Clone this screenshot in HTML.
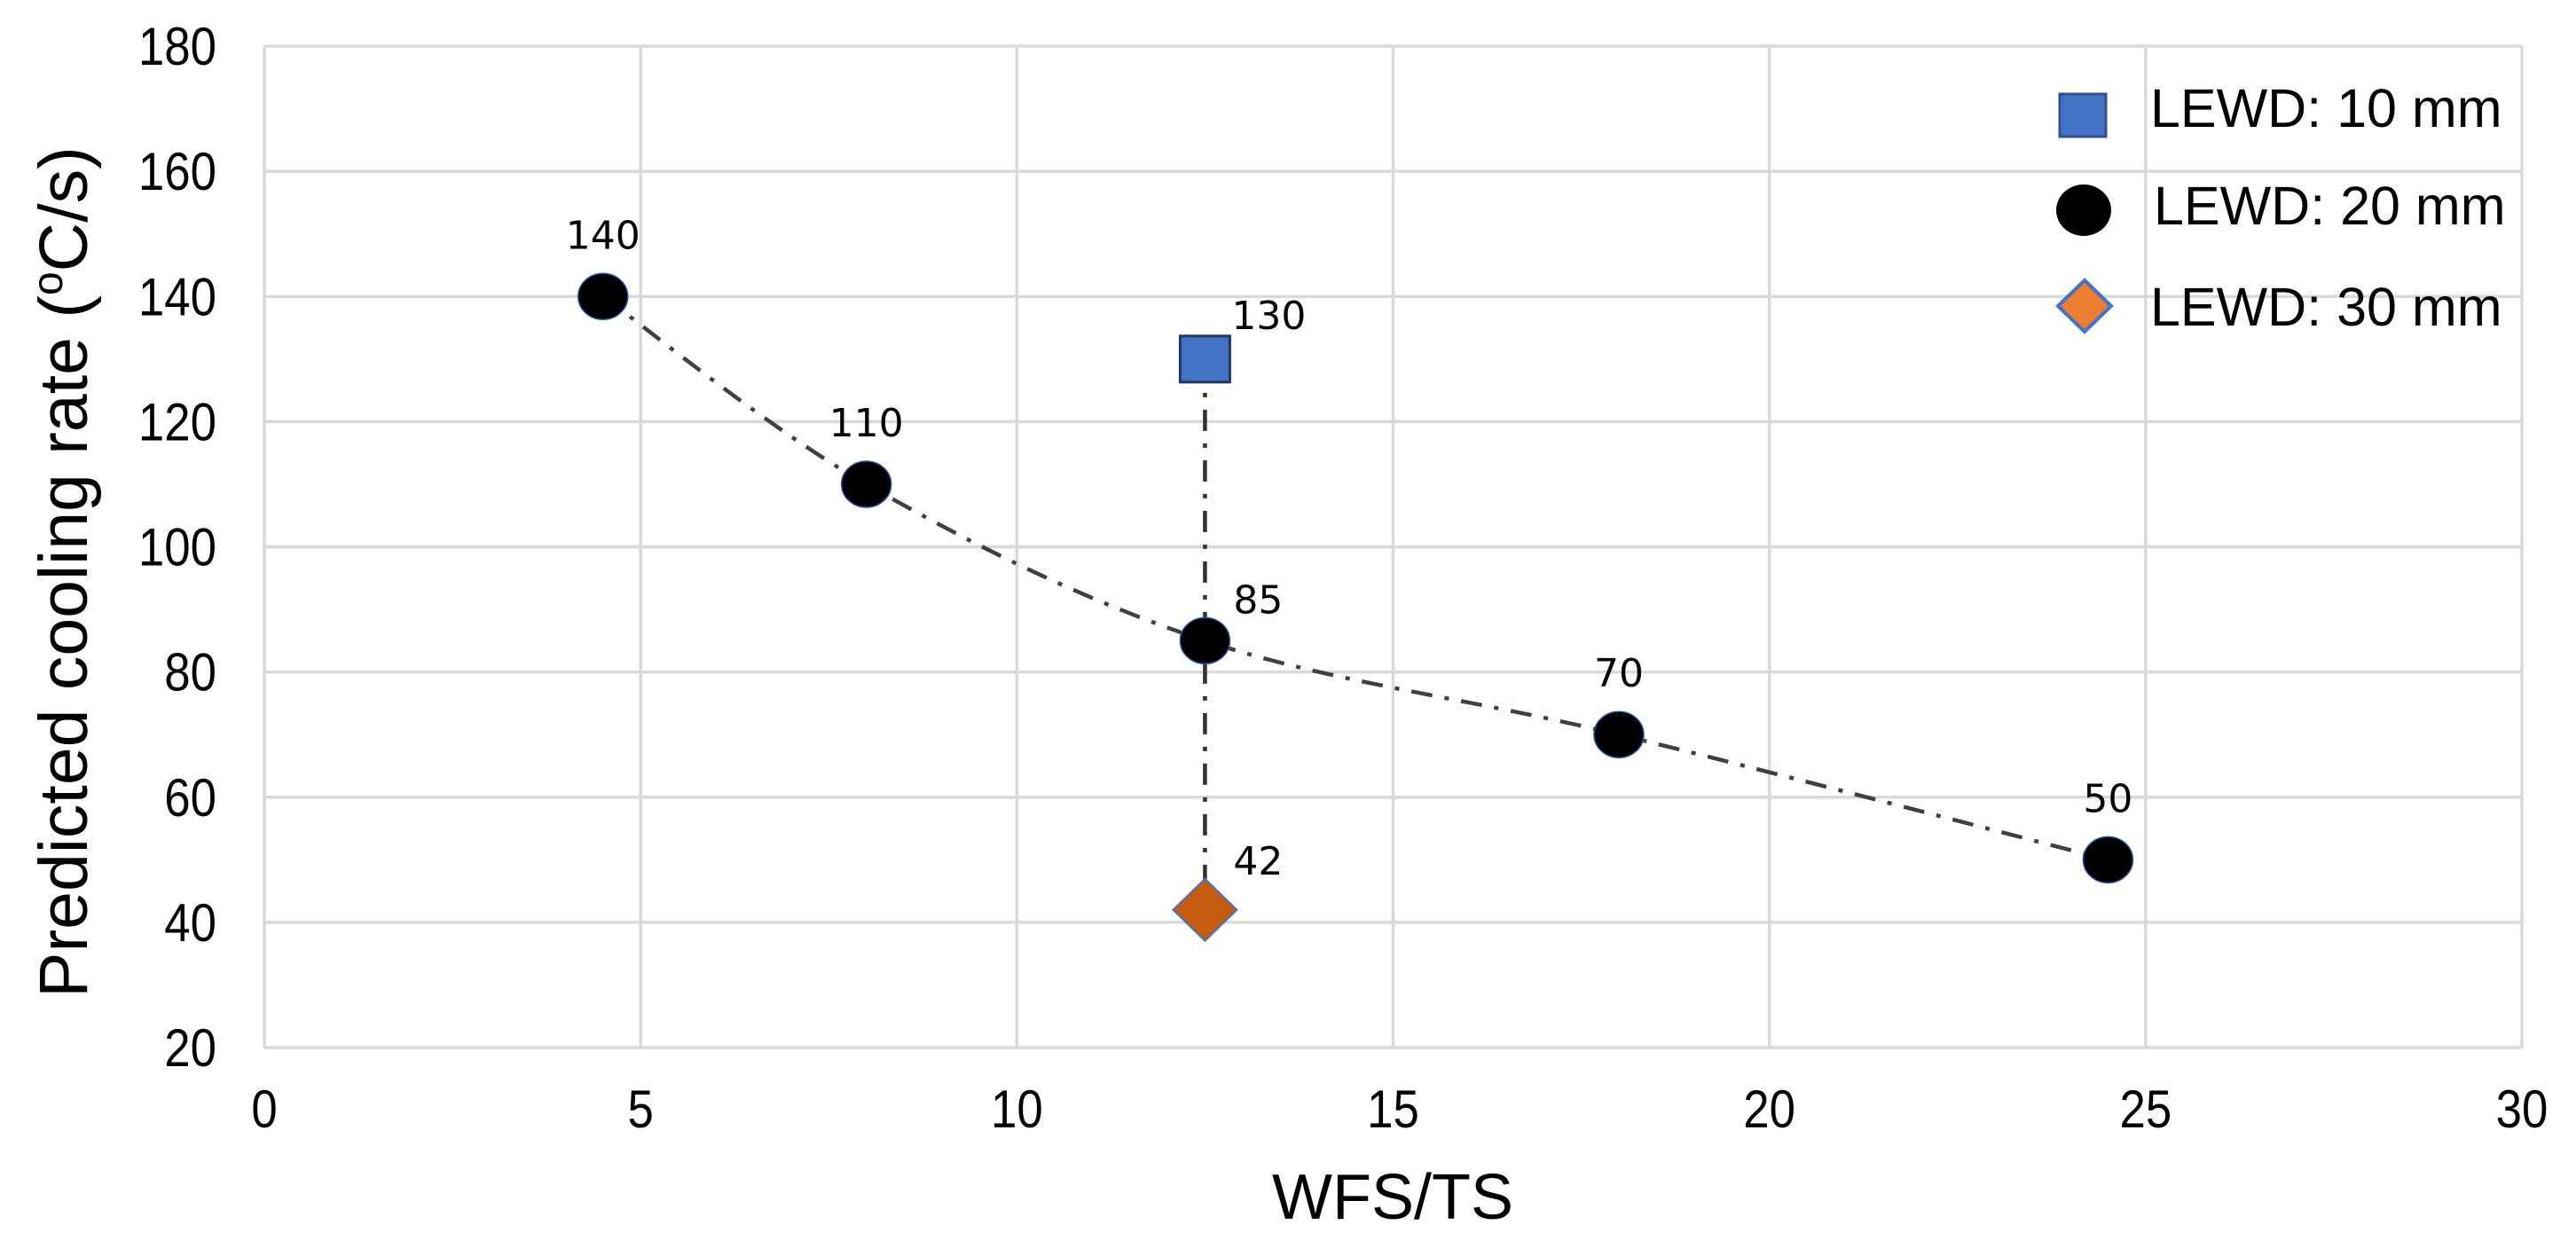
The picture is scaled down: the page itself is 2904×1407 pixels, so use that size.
<!DOCTYPE html>
<html><head><meta charset="utf-8">
<style>
html,body{margin:0;padding:0;background:#fff;}
svg{display:block;}
</style></head>
<body>
<svg id="chart" width="2904" height="1407" viewBox="0 0 2904 1407" xmlns="http://www.w3.org/2000/svg">
<rect width="2904" height="1407" fill="#fff"/>
<g id="grid"></g>
<g id="lines"></g>
<g id="marks"></g>
<g id="labels"></g>
<g id="ticks"></g>
<text transform="translate(98,645) rotate(-90)" text-anchor="middle" font-family="Liberation Sans, sans-serif" font-size="77" fill="#000">Predicted cooling rate (<tspan font-size="48" dy="-28">o</tspan><tspan dy="28">C/s)</tspan></text>
<text x="1570" y="1374" text-anchor="middle" font-family="Liberation Sans, sans-serif" font-size="72" fill="#000">WFS/TS</text>
<g id="legend">
  <g>
    <rect x="2322" y="106" width="52" height="48" fill="#4472c4" stroke="#2f528f" stroke-width="3"/>
    <text x="2424" y="143" font-family="Liberation Sans, sans-serif" font-size="61" fill="#000">LEWD: 10 mm</text>
  </g>
  <g>
    <ellipse cx="2349" cy="237" rx="31" ry="29" fill="#000"/>
    <text x="2428" y="253" font-family="Liberation Sans, sans-serif" font-size="61" fill="#000">LEWD: 20 mm</text>
  </g>
  <g>
    <polygon points="2350,316 2380,345 2350,374 2320,345" fill="#ed7d31" stroke="#4472c4" stroke-width="4"/>
    <text x="2424" y="367" font-family="Liberation Sans, sans-serif" font-size="61" fill="#000">LEWD: 30 mm</text>
  </g>
</g>
</svg>
<script>
// ---- data ----
const xTicks = [0, 5, 10, 15, 20, 25, 30];
const yTicks = [20, 40, 60, 80, 100, 120, 140, 160, 180];
const lewd20X = [4.5, 8, 12.5, 18, 24.5];
const lewd20Y = [140, 110, 85, 70, 50];
const lewd10X = [12.5];
const lewd10Y = [130];
const lewd30X = [12.5];
const lewd30Y = [42];

const NS = 'http://www.w3.org/2000/svg';
const L = 298, R = 2843, T = 52, B = 1181;
const X0 = 0, X1 = 30, Y0 = 20, Y1 = 180;
function sx(v){ return L + (v - X0) / (X1 - X0) * (R - L); }
function sy(v){ return B - (v - Y0) / (Y1 - Y0) * (B - T); }
function mk(tag, attrs, parent){
  const e = document.createElementNS(NS, tag);
  for (const k in attrs) e.setAttribute(k, attrs[k]);
  parent.appendChild(e);
  return e;
}
const grid = document.getElementById('grid');
const ticks = document.getElementById('ticks');
const lines = document.getElementById('lines');
const marks = document.getElementById('marks');
const labels = document.getElementById('labels');

yTicks.forEach(v => {
  const ln = mk('line', {x1:L, x2:R, y1:sy(v), y2:sy(v), stroke:'#d9d9d9', 'stroke-width':3.5}, grid);
  
  
  const t = mk('text', {transform:`translate(244,${sy(v)+21}) scale(0.88,1)`, 'text-anchor':'end', 'font-family':'Liberation Sans, sans-serif', 'font-size':60, fill:'#000'}, ticks);
  t.textContent = v;
  
  
});
xTicks.forEach(v => {
  const ln = mk('line', {x1:sx(v), x2:sx(v), y1:T, y2:B, stroke:'#d9d9d9', 'stroke-width':3.5}, grid);
  
  
  const t = mk('text', {transform:`translate(${sx(v)},1271) scale(0.88,1)`, 'text-anchor':'middle', 'font-family':'Liberation Sans, sans-serif', 'font-size':60, fill:'#000'}, ticks);
  t.textContent = v;
  
  
});

// smooth curve through LEWD 20 points (Catmull-Rom)
(function(){
  const P = lewd20X.map((xv,i)=>[sx(xv), sy(lewd20Y[i])]);
  let d = 'M' + P[0][0] + ',' + P[0][1];
  for (let i=0;i<P.length-1;i++){
    const p0 = P[Math.max(0,i-1)], p1 = P[i], p2 = P[i+1], p3 = P[Math.min(P.length-1,i+2)];
    const c1 = [p1[0]+(p2[0]-p0[0])/6, p1[1]+(p2[1]-p0[1])/6];
    const c2 = [p2[0]-(p3[0]-p1[0])/6, p2[1]-(p3[1]-p1[1])/6];
    d += `C${c1[0].toFixed(1)},${c1[1].toFixed(1)} ${c2[0].toFixed(1)},${c2[1].toFixed(1)} ${p2[0].toFixed(1)},${p2[1].toFixed(1)}`;
  }
  const p = mk('path', {d:d, fill:'none', stroke:'#404040', 'stroke-width':4.5, 'stroke-dasharray':'24 14 5 14'}, lines);
  
  
})();
const vl = mk('line', {x1:sx(lewd10X[0]), x2:sx(lewd30X[0]), y1:sy(lewd10Y[0]), y2:sy(lewd30Y[0]), stroke:'#303030', 'stroke-width':4.5, 'stroke-dasharray':'24 14 5 14'}, lines);



function label(txt, x, y, anchor){
  const t = mk('text', {x:x, y:y, 'text-anchor':anchor, 'font-family':'DejaVu Sans, sans-serif', 'font-size':44, fill:'#000'}, labels);
  t.textContent = txt;
  
  
}
lewd20X.forEach((xv, i) => {
  const c = mk('ellipse', {cx:sx(xv), cy:sy(lewd20Y[i]), rx:28, ry:26, fill:'#000', stroke:'#2f5597', 'stroke-width':1.5}, marks);
  
  
  if (xv === lewd10X[0]) label(lewd20Y[i], sx(xv)+32, sy(lewd20Y[i])-31, 'start');
  else label(lewd20Y[i], sx(xv), sy(lewd20Y[i])-54, 'middle');
});
lewd10X.forEach((xv, i) => {
  const r = mk('rect', {x:sx(xv)-28, y:sy(lewd10Y[i])-26, width:56, height:52, fill:'#4472c4', stroke:'#1f3864', 'stroke-width':3}, marks);
  
  
  label(lewd10Y[i], sx(xv)+30, sy(lewd10Y[i])-34, 'start');
});
lewd30X.forEach((xv, i) => {
  const cx = sx(xv), cy = sy(lewd30Y[i]);
  const p = mk('polygon', {points:`${cx},${cy-35} ${cx+36},${cy} ${cx},${cy+35} ${cx-36},${cy}`, fill:'#c55a11', stroke:'#4472c4', 'stroke-width':2}, marks);
  
  
  label(lewd30Y[i], cx+32, cy-40, 'start');
});
</script>
</body></html>
